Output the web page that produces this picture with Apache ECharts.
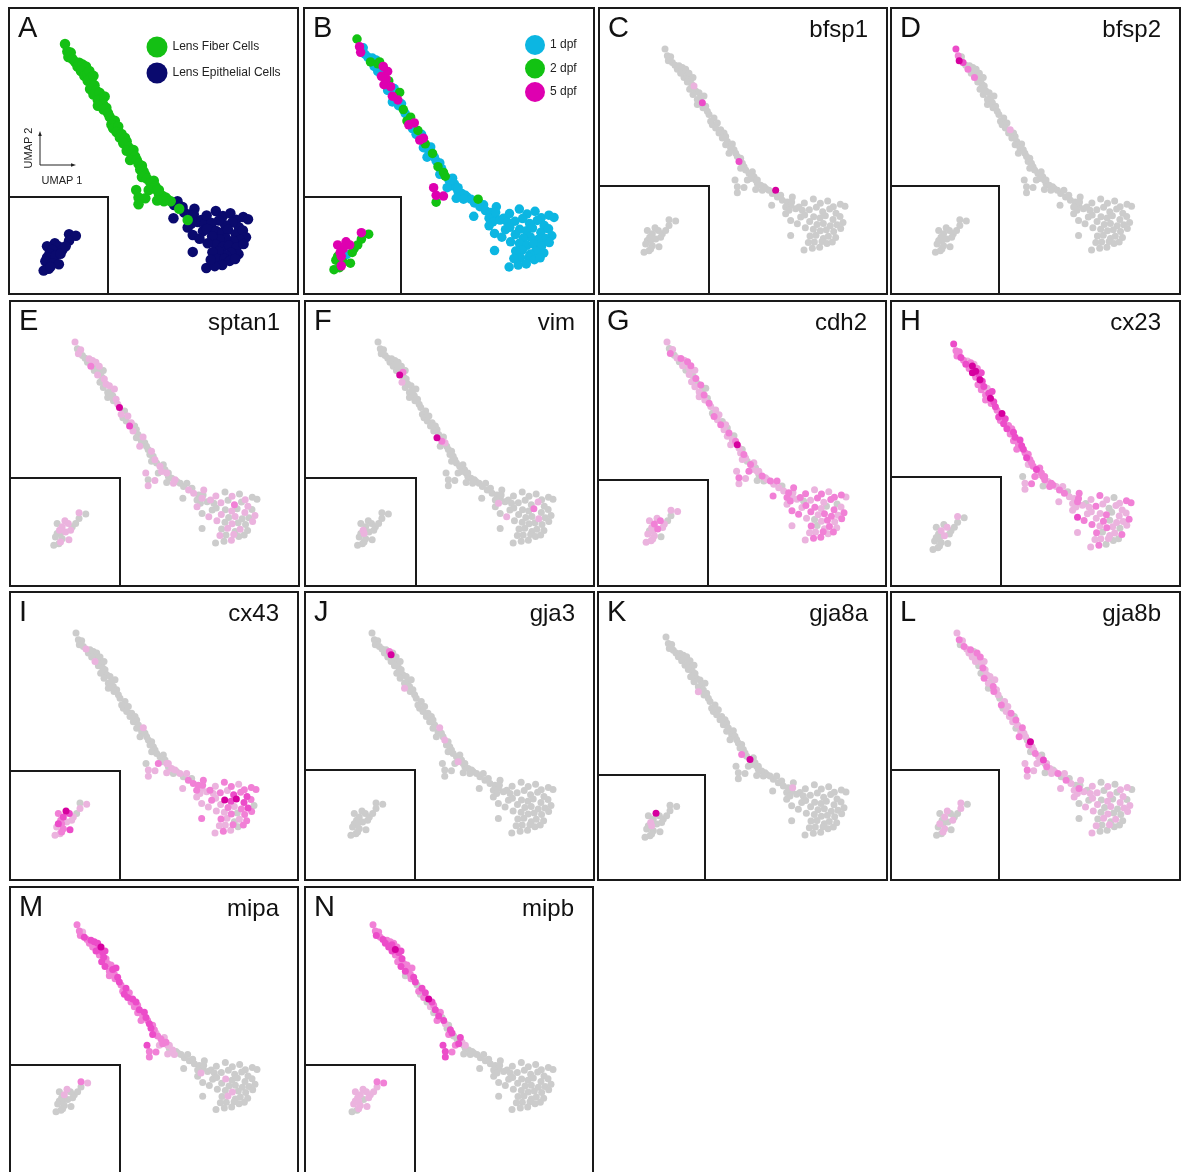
<!DOCTYPE html>
<html><head><meta charset="utf-8">
<script src="https://cdn.jsdelivr.net/npm/echarts@6/dist/echarts.min.js"></script>
<style>html,body{margin:0;padding:0;background:#fff}#c{width:1181px;height:1172px}</style>
</head><body><div id="c"></div>
<script>
// ---- UMAP coordinates of the cells [UMAP1, UMAP2] (arm top->bottom, branch, transition, cluster, inset) ----
const cells = [
 [10.8,10.0],[11.5,12.0],[12.5,12.3],[11.8,13.5],[13.0,14.0],[13.8,14.8],[15.0,15.0],[14.5,16.0],[16.0,15.5],[16.5,16.5],
 [17.0,16.0],[15.5,17.2],[16.5,18.5],[17.5,18.0],[18.0,17.2],[18.5,19.0],[17.5,19.8],[19.2,18.5],[18.8,20.5],[19.5,21.0],
 [18.2,22.0],[20.0,22.5],[19.2,23.5],[21.0,23.0],[21.5,24.5],[20.5,25.0],[22.5,24.0],[22.0,26.0],[20.5,26.5],[23.0,27.0],
 [22.2,27.5],[23.5,28.5],[24.0,29.5],
 [25.5,30.5],[24.5,31.5],[25.0,32.5],[26.5,32.0],[26.0,33.5],[27.5,34.0],[27.0,35.0],[28.5,35.0],[29.0,36.0],[28.0,36.5],
 [29.5,37.5],[29.0,38.5],[31.0,38.3],[30.5,39.5],[31.5,40.0],[30.0,41.0],[32.0,41.0],[32.5,42.0],[33.5,42.5],[33.0,43.5],
 [34.0,44.0],[34.5,45.0],[33.5,45.5],[35.0,46.0],[36.0,47.0],[37.0,46.5],[37.5,48.0],[36.5,48.5],[35.5,49.0],[38.0,49.0],
 [38.5,50.0],[39.5,50.5],[40.5,51.0],[41.0,51.5],[42.0,52.0],[40.0,52.0],[43.0,53.0],[44.0,52.0],[44.5,54.0],[45.5,53.5],
 [42.8,56.5],[46.0,55.0],[47.5,55.5],[48.5,56.5],[47.0,57.0],
 [31.8,49.0],[32.5,51.0],[34.5,51.2],[32.5,52.8],[38.0,51.8],[38.5,49.0],
 [49.0,54.0],[48.8,55.5],[48.0,58.0],[47.0,59.0],[48.5,61.0],[50.0,57.5],[51.0,57.0],[52.0,58.0],[51.5,60.0],[50.5,62.0],[48.5,65.5],
 [52.6,55.8],[55.3,54.6],[57.4,55.9],[59.6,55.2],[61.3,56.9],[63.4,56.2],[64.8,56.8],[62.1,58.9],[60.2,57.6],[58.1,58.4],
 [56.2,57.1],[54.1,57.8],[52.7,59.4],[55.4,59.9],[57.3,60.3],[58.9,59.6],[61.2,60.7],[63.3,59.8],[64.2,61.6],[62.4,62.3],
 [60.4,62.6],[58.3,61.9],[56.4,62.2],[54.2,61.3],[55.3,63.6],[57.4,64.1],[59.2,63.8],[61.4,64.3],[63.5,63.4],[62.0,66.1],
 [59.8,65.7],[58.3,66.4],[56.1,65.4],[54.3,65.6],[55.6,67.4],[57.9,67.3],[59.4,67.9],[57.2,69.0],[52.5,69.8],[55.0,69.3],
 [53.8,67.6],[61.0,67.4],[52.9,63.2],
 [12.0,60.8],[14.0,61.2],[12.0,62.5],[7.8,63.2],[8.8,64.0],[5.5,64.0],[7.0,65.0],[10.0,65.0],[6.2,66.0],[5.5,67.0],
 [6.5,67.0],[8.0,66.5],[9.5,66.0],[5.0,68.0],[7.0,68.5],[9.0,68.8],[6.0,70.0],[4.5,70.5],[6.5,69.5],[11.0,64.0]
];
// cell type: 0 = lens fiber, 1 = lens epithelial
const cellType = [
 0,0,0,0,0, 0,0,0,0,0, 0,0,0,0,0, 0,0,0,0,0, 0,0,0,0,0, 0,0,0,0,0, 0,0,0,
 0,0,0,0,0, 0,0,0,0,0, 0,0,0,0,0, 0,0,0,0,0, 0,0,0,0,0, 0,0,0,0,0, 0,0,0,0,0, 0,1,1,0,1, 1,1,1,1,0,
 0,0,0,0,0,0,
 1,1,1,1,1, 1,1,1,1,1, 1,
 1,1,1,1,1, 1,1,1,1,1, 1,1,1,1,1, 1,1,1,1,1, 1,1,1,1,1, 1,1,1,1,1, 1,1,1,1,1, 1,1,1,1,1, 1,1,1,
 1,1,1,1,1, 1,1,1,1,1, 1,1,1,1,1, 1,1,1,1,1
];
// developmental stage (dpf)
const stage = [
 2,5,1,5,1, 1,1,2,1,2, 2,1,1,1,5, 1,5,5,5,2, 5,5,1,1,1, 5,2,5,1,1, 1,2,1,
 2,2,5,5,1, 2,1,1,5,5, 2,1,1,1,2, 1,1,1,1,2, 1,2,1,2,1, 1,1,1,1,1, 1,1,1,1,1, 1,1,2,1,1, 1,1,1,1,1,
 5,5,5,2,1,1,
 1,1,1,1,1, 1,1,1,1,1, 1,
 1,1,1,1,1, 1,1,1,1,1, 1,1,1,1,1, 1,1,1,1,1, 1,1,1,1,1, 1,1,1,1,1, 1,1,1,1,1, 1,1,1,1,1, 1,1,1,
 5,2,2,5,5, 5,5,2,5,2, 5,1,2,2,2, 2,2,2,5,2
];
// expression level per cell (0 = none ... 4 = highest)
const bfsp1 = [
 0,0,0,0,0, 0,0,0,0,0, 0,0,0,0,0, 0,0,0,0,1, 0,0,0,0,0, 0,0,3,0,0, 0,0,0,
 0,0,0,0,0, 0,0,0,0,0, 0,0,0,0,0, 0,0,0,0,3, 0,0,0,0,0, 0,0,0,0,0, 0,0,0,0,0, 0,0,4,0,0, 0,0,0,0,0,
 0,0,0,0,0,0,
 0,0,0,0,0, 0,0,0,0,0, 0,
 0,0,0,0,0, 0,0,0,0,0, 0,0,0,0,0, 0,0,0,0,0, 0,0,0,0,0, 0,0,0,0,0, 0,0,0,0,0, 0,0,0,0,0, 0,0,0,
 0,0,0,0,0, 0,0,0,0,0, 0,0,0,0,0, 0,0,0,0,0
];
const bfsp2 = [
 3,2,0,4,3, 0,0,2,0,0, 0,0,2,0,0, 0,0,0,0,0, 0,0,0,0,0, 0,0,0,0,0, 0,0,0,
 0,0,0,0,0, 1,0,0,0,0, 0,0,0,0,0, 0,0,0,0,0, 0,0,0,0,0, 0,0,0,0,0, 0,0,0,0,0, 0,0,0,0,0, 0,0,0,0,0,
 0,0,0,0,0,0,
 0,0,0,0,0, 0,0,0,0,0, 0,
 0,0,0,0,0, 0,0,0,0,0, 0,0,0,0,0, 0,0,0,0,0, 0,0,0,0,0, 0,0,0,0,0, 0,0,0,0,0, 0,0,0,0,0, 0,0,0,
 0,0,0,0,0, 0,0,0,0,0, 0,0,0,0,0, 0,0,0,0,0
];
const sptan1 = [
 1,0,1,1,0, 0,1,0,1,0, 1,2,0,0,1, 0,1,0,0,1, 0,1,0,1,0, 0,1,0,0,1, 0,1,4,
 0,1,0,1,0, 1,3,0,0,1, 0,0,1,0,0, 1,0,0,1,0, 0,1,0,0,1, 0,0,1,0,1, 0,0,1,0,0, 1,0,0,1,0, 0,1,0,1,0,
 1,0,1,1,0,0,
 1,0,0,1,0, 0,1,0,0,1, 0,
 1,0,1,0,1, 0,0,1,0,2, 0,1,0,0,1, 0,1,0,1,0, 0,1,0,1,0, 1,0,0,1,0, 1,0,1,0,0, 1,0,1,0,0, 1,0,1,
 1,0,0,1,1, 0,1,0,1,0, 0,1,1,0,0, 1,0,0,1,0
];
const vim = [
 0,0,0,0,0, 0,0,0,0,0, 0,0,0,0,0, 2,4,0,0,0, 1,0,0,0,0, 0,0,0,0,0, 0,0,0,
 0,0,0,0,0, 0,0,0,0,0, 0,4,0,2,1, 0,0,0,0,0, 0,0,0,0,0, 0,0,0,0,0, 0,0,0,0,0, 0,0,0,0,0, 0,0,0,0,0,
 0,0,0,0,0,0,
 0,0,1,0,0, 0,0,0,0,1, 0,
 0,0,0,0,0, 0,0,0,1,0, 0,0,0,0,0, 2,0,0,0,0, 1,0,0,0,0, 0,0,0,0,0, 0,0,0,0,0, 0,0,0,0,0, 0,0,0,
 0,0,0,0,0, 0,0,0,1,0, 1,0,0,0,0, 0,0,0,0,0
];
const cdh2 = [
 1,0,1,2,0, 1,2,0,1,0, 2,1,0,1,2, 0,1,1,0,2, 1,0,1,2,0, 1,0,2,1,0, 1,2,1,
 1,0,2,1,1, 0,2,1,0,1, 2,1,0,1,2, 1,4,1,0,1, 2,1,1,0,2, 1,0,1,2,1, 0,2,1,1,2, 0,1,2,1,0, 2,1,2,1,2,
 1,2,1,1,0,1,
 2,1,2,1,2, 1,2,0,1,2, 1,
 2,1,2,1,2, 2,1,0,2,1, 2,1,2,2,1, 0,2,1,2,1, 2,2,1,2,0, 1,2,1,2,1, 2,1,0,2,1, 2,1,2,1,2, 1,2,1,
 1,1,0,1,2, 1,2,1,1,0, 1,2,1,1,1, 0,1,1,1,0
];
const cx23 = [
 3,2,2,2,3, 2,1,3,2,4, 1,2,4,4,2, 3,2,3,4,3, 2,3,2,1,3, 2,3,4,2,3, 2,3,2,
 4,3,2,3,3, 2,3,2,3,2, 3,2,3,2,3, 2,3,2,2,3, 2,2,1,2,3, 2,2,1,2,2, 2,1,2,2,1, 2,2,1,2,0, 1,1,1,2,1,
 0,1,2,1,0,2,
 2,2,1,1,3, 1,0,1,1,2, 1,
 1,2,1,0,1, 2,2,1,1,0, 1,2,1,1,2, 0,1,1,2,1, 1,0,2,1,1, 2,1,0,1,2, 1,1,0,2,1, 1,0,0,1,2, 1,0,2,
 1,0,0,0,1, 0,1,0,0,0, 0,1,0,0,0, 0,0,0,0,0
];
const cx43 = [
 0,0,0,0,0, 1,0,0,0,0, 0,0,1,0,0, 0,0,0,0,0, 0,0,0,0,0, 0,0,0,0,0, 0,0,0,
 0,0,0,0,0, 0,0,0,0,0, 0,0,1,0,0, 0,0,0,0,0, 0,0,0,0,0, 0,0,0,2,1, 0,1,1,0,1, 0,0,1,2,0, 1,2,2,1,2,
 0,1,1,1,1,1,
 2,2,1,1,1, 1,2,1,2,1, 2,
 1,2,2,1,2, 2,2,3,2,3, 1,2,1,4,3, 4,3,2,0,3, 2,1,2,1,1, 2,0,2,2,2, 1,0,1,2,1, 2,0,1,1,2, 1,2,1,
 0,1,1,4,3, 2,3,1,2,3, 2,1,1,1,2, 3,1,1,2,0
];
const gja3 = [
 0,0,0,0,0, 0,0,0,2,4, 0,0,0,0,0, 0,0,0,0,0, 0,0,0,0,0, 0,0,0,1,0, 0,0,0,
 0,0,0,0,0, 0,0,0,0,0, 0,0,1,0,0, 0,0,1,0,0, 0,0,0,0,0, 0,0,1,0,0, 0,0,0,0,0, 0,0,0,0,0, 0,0,0,0,0,
 0,0,0,0,0,0,
 0,0,0,0,0, 0,0,0,0,0, 0,
 0,0,0,0,0, 0,0,0,0,0, 0,0,0,0,0, 0,0,0,0,0, 0,0,0,0,0, 0,0,0,0,0, 0,0,0,0,0, 0,0,0,0,0, 0,0,0,
 0,0,0,0,0, 0,0,0,0,0, 0,0,0,0,0, 0,0,0,0,0
];
const gja8a = [
 0,0,0,0,0, 0,0,0,0,0, 0,0,0,0,0, 0,0,0,0,0, 0,0,0,0,0, 0,0,0,1,0, 0,0,0,
 0,0,0,0,0, 0,0,0,0,0, 0,0,0,0,0, 0,0,0,0,0, 0,0,2,0,4, 0,0,0,0,0, 0,0,0,0,0, 0,0,0,0,0, 0,0,0,0,0,
 0,0,0,0,0,0,
 0,1,0,0,0, 0,0,0,0,0, 0,
 0,0,0,0,0, 0,0,0,0,0, 0,0,0,0,0, 0,0,0,0,0, 0,0,0,0,0, 0,0,0,0,0, 0,0,0,0,0, 0,0,0,0,0, 0,0,0,
 0,0,0,4,0, 0,0,0,1,0, 1,0,0,0,0, 0,0,0,0,0
];
const gja8b = [
 1,2,1,0,2, 1,2,1,0,1, 2,1,1,0,2, 1,0,1,2,1, 0,1,2,1,0, 1,1,2,0,1, 2,1,0,
 1,2,0,1,1, 2,1,0,2,1, 1,0,2,1,1, 2,1,0,4,2, 1,1,0,2,1, 0,3,1,1,0, 2,1,0,1,2, 1,0,1,2,0, 1,1,0,2,1,
 1,2,1,1,0,1,
 1,0,1,1,0, 1,0,1,0,1, 0,
 1,0,1,0,1, 1,0,1,0,1, 0,1,1,0,1, 0,1,0,1,1, 0,1,0,1,0, 1,0,0,1,0, 1,0,1,0,0, 1,0,0,1,0, 1,0,1,
 1,0,1,1,0, 0,1,0,0,1, 0,0,1,0,1, 0,0,0,1,0
];
const mipa = [
 2,2,1,2,3, 2,3,2,3,2, 3,2,3,3,4, 3,2,3,3,2, 3,2,3,2,3, 2,3,2,2,3, 2,3,2,
 3,2,3,2,3, 3,2,3,2,2, 3,2,3,2,3, 2,2,3,2,3, 2,1,3,2,2, 1,2,2,1,1, 0,1,0,0,0, 1,0,0,0,0, 0,0,0,0,0,
 3,2,2,2,1,1,
 0,0,1,0,0, 0,0,0,0,0, 0,
 0,0,0,0,0, 0,0,0,0,0, 0,0,0,1,0, 0,0,0,0,0, 0,0,0,0,0, 1,0,0,0,0, 0,0,1,0,0, 0,0,0,0,0, 0,0,0,
 2,1,0,1,0, 0,1,0,0,0, 0,0,0,0,0, 0,0,0,0,0
];
const mipb = [
 2,2,2,3,2, 3,2,3,2,3, 2,3,3,4,2, 3,2,3,2,3, 2,2,3,2,2, 3,2,2,0,3, 2,3,0,
 3,2,0,3,2, 4,0,3,2,1, 3,0,2,3,0, 2,3,1,0,0, 3,3,2,0,0, 3,1,3,2,0, 0,0,0,0,0, 0,0,0,0,0, 0,0,0,0,0,
 3,3,2,3,0,1,
 0,0,0,0,0, 0,0,0,0,0, 0,
 0,0,0,0,0, 0,0,0,0,0, 0,0,0,0,0, 0,0,0,0,0, 0,0,0,0,0, 0,0,0,0,0, 0,0,0,0,0, 0,0,0,0,0, 0,0,0,
 2,2,1,1,1, 1,1,1,1,1, 1,0,1,1,1, 1,0,0,1,1
];
const typeNames = ['Lens Fiber Cells','Lens Epithelial Cells'];
const stageNames = {1:'1 dpf',2:'2 dpf',5:'5 dpf'};
const geneNames = ['bfsp1','bfsp2','sptan1','vim','cdh2','cx23','cx43','gja3','gja8a','gja8b','mipa','mipb'];
const geneLevels = [bfsp1,bfsp2,sptan1,vim,cdh2,cx23,cx43,gja3,gja8a,gja8b,mipa,mipb];

// ---- layout (pixels) ----
// box [x0,y0,x1,y1], inset [right, top], anchor [x of top cell, y of top cell, x of right-most cell, y of bottom cell]
const panels = [
 {letter:'A', box:[9,8,298,294],    inset:[108,197],  anchor:[65,44,248,268]},
 {letter:'B', box:[304,8,594,294],  inset:[401,197],  anchor:[357,39,554,267]},
 {letter:'C', box:[599,8,887,294],  inset:[709,186],  anchor:[665,49,845,250]},
 {letter:'D', box:[891,8,1180,294], inset:[999,186],  anchor:[957,49,1138,250]},
 {letter:'E', box:[10,301,299,586], inset:[120,478],  anchor:[75,342,257,543]},
 {letter:'F', box:[305,301,594,586],inset:[416,478],  anchor:[378,342,553,543]},
 {letter:'G', box:[598,301,886,586],inset:[708,480],  anchor:[667,342,846,540]},
 {letter:'H', box:[891,301,1180,586],inset:[1001,477],anchor:[954,344,1133,547]},
 {letter:'I', box:[10,592,298,880], inset:[120,771],  anchor:[76,633,256,833]},
 {letter:'J', box:[305,592,594,880],inset:[415,770],  anchor:[372,633,553,833]},
 {letter:'K', box:[598,592,887,880],inset:[705,775],  anchor:[666,637,846,835]},
 {letter:'L', box:[891,592,1180,880],inset:[999,770], anchor:[958,633,1138,833]},
 {letter:'M', box:[10,887,298,1195],inset:[120,1065], anchor:[77,928,257,1132]},
 {letter:'N', box:[305,887,593,1195],inset:[415,1065], anchor:[373,928,553,1132]}
];
const FONT = '"Liberation Sans", Arial, Helvetica, sans-serif';
const levelColors = ['#cccccc','#ebb3de','#f180d6','#ec4cc9','#d6009f'];
const typeColors = ['#14c014','#0a0a6e'];
const stageColors = {1:'#0cb6e2',2:'#12c212',5:'#de00b0'};

const grid=[], xAxis=[], yAxis=[], series=[], graphic=[];
const iTop=0, iRight=101, iBottom=133;
panels.forEach((p,i)=>{
  const [tx,ty,rx,by] = p.anchor;
  const sx = (rx-tx)/(cells[iRight][0]-cells[iTop][0]);
  const sy = (by-ty)/(cells[iBottom][1]-cells[iTop][1]);
  grid.push({left:tx-cells[iTop][0]*sx, top:ty-cells[iTop][1]*sy, width:80*sx, height:90*sy});
  xAxis.push({gridIndex:i,type:'value',min:0,max:80,show:false,splitLine:{show:false}});
  yAxis.push({gridIndex:i,type:'value',min:0,max:90,inverse:true,show:false,splitLine:{show:false}});
  const base = {type:'scatter',xAxisIndex:i,yAxisIndex:i,silent:true,animation:false};
  if(i===0){
    [1,0].forEach(t=>series.push(Object.assign({},base,{name:typeNames[t],symbolSize:10.5,
      itemStyle:{color:typeColors[t],opacity:1},data:cells.filter((c,j)=>cellType[j]===t)})));
  } else if(i===1){
    [1,2,5].forEach(s=>series.push(Object.assign({},base,{name:stageNames[s],symbolSize:9.5,
      itemStyle:{color:stageColors[s],opacity:1},data:cells.filter((c,j)=>stage[j]===s)})));
  } else {
    const g = geneLevels[i-2];
    [0,1,2,3,4].forEach(l=>series.push(Object.assign({},base,{name:geneNames[i-2]+'-'+l,symbolSize:7,
      itemStyle:{color:levelColors[l],opacity:1},data:cells.filter((c,j)=>g[j]===l)})));
    graphic.push({type:'text',x:p.box[2]-19,y:p.box[1]+22,z:10,
      style:{text:geneNames[i-2],fontSize:24,fontFamily:FONT,fill:'#111',align:'right',verticalAlign:'middle'}});
  }
  const [x0,y0,x1,y1]=p.box;
  graphic.push({type:'rect',z:5,shape:{x:x0,y:y0,width:x1-x0,height:y1-y0},style:{fill:'transparent',stroke:'#1a1a1a',lineWidth:2}});
  graphic.push({type:'polyline',z:5,shape:{points:[[x0,p.inset[1]],[p.inset[0],p.inset[1]],[p.inset[0],y1]]},style:{fill:null,stroke:'#1a1a1a',lineWidth:2}});
  graphic.push({type:'text',x:x0+9,y:y0+21,z:10,
    style:{text:p.letter,fontSize:29,fontFamily:FONT,fill:'#111',align:'left',verticalAlign:'middle'}});
});
// UMAP axis key in panel A
graphic.push({type:'line',z:10,shape:{x1:40,y1:165,x2:40,y2:134},style:{stroke:'#222',lineWidth:1}});
graphic.push({type:'line',z:10,shape:{x1:40,y1:165,x2:73,y2:165},style:{stroke:'#222',lineWidth:1}});
graphic.push({type:'polygon',z:10,shape:{points:[[40,131],[38.2,136],[41.8,136]]},style:{fill:'#222'}});
graphic.push({type:'polygon',z:10,shape:{points:[[76,165],[71,163.2],[71,166.8]]},style:{fill:'#222'}});
graphic.push({type:'text',x:29,y:148,rotation:Math.PI/2,z:10,style:{text:'UMAP 2',fontSize:11,fontFamily:FONT,fill:'#222',align:'center',verticalAlign:'middle'}});
graphic.push({type:'text',x:62,y:181,z:10,style:{text:'UMAP 1',fontSize:11,fontFamily:FONT,fill:'#222',align:'center',verticalAlign:'middle'}});

const chart = echarts.init(document.getElementById('c'));
chart.setOption({
  animation:false,
  backgroundColor:'#ffffff',
  grid, xAxis, yAxis, series, graphic,
  legend:[
    {data:typeNames, orient:'vertical', left:141.5, top:31.5, itemWidth:21, itemHeight:21, itemGap:5, icon:'circle',
     selectedMode:false, textStyle:{fontSize:12, color:'#222', fontFamily:FONT}},
    {data:['1 dpf','2 dpf','5 dpf'], orient:'vertical', left:520, top:30, itemWidth:20, itemHeight:20, itemGap:3.5, icon:'circle',
     selectedMode:false, textStyle:{fontSize:12, color:'#222', fontFamily:FONT}}
  ]
});
</script></body></html>
